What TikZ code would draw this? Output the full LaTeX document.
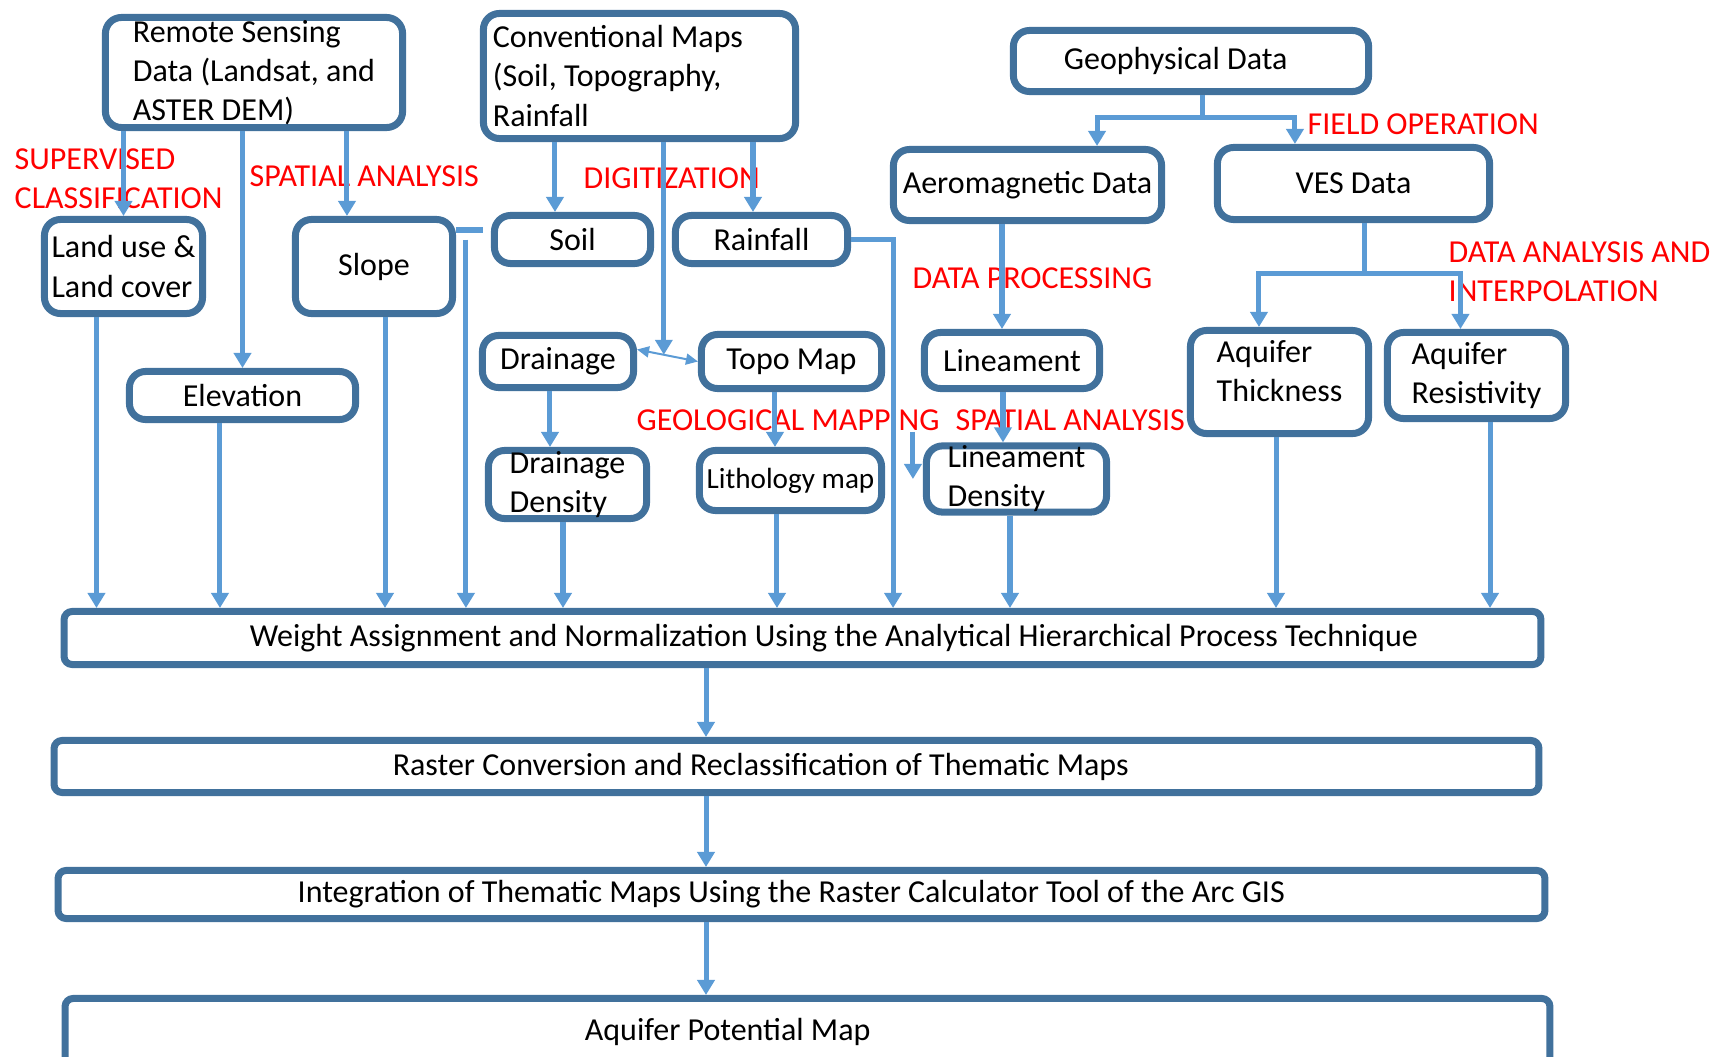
\documentclass[tikz,border=0pt]{standalone}
\usepackage{fontspec}
\setmainfont{Carlito}
\usepackage{tikz}
\usetikzlibrary{arrows.meta}
\usetikzlibrary{calc}
\definecolor{boxblue}{RGB}{65,113,156}
\definecolor{linkblue}{RGB}{91,155,213}
\tikzset{basic/.style={draw=boxblue,line width=0.07cm,fill=white,inner sep=0pt,
                       align=left,font=\fontsize{9.1}{11.1}\selectfont}}
\tikzset{box/.style={basic,rounded corners=0.16cm}}
\tikzset{wide/.style={basic,rounded corners=0.08cm,minimum width=14.84cm}}
\def\px{0.01cm}

\begin{document}
\begin{tikzpicture}[x=\px,y=-\px]
    \tikzstyle{arr}=[draw=linkblue,line width=0.05cm,-{Triangle[width=0.17cm,length=0.15cm]}]
    \tikzstyle{link}=[draw=linkblue,line width=0.05cm]
    \tikzstyle{twoway}=[draw=linkblue,line width=0.02cm,
        {Triangle[width=0.11cm,length=0.12cm]}-{Triangle[width=0.11cm,length=0.12cm]}]
    \tikzstyle{annot}=[text=red,anchor=west,inner sep=0pt,align=left,
        font=\fontsize{9.1}{11.1}\selectfont]
    \useasboundingbox (0,0) rectangle (1735,1057);

    % Draw the source data boxes
    \node[box,minimum width=2.97cm,minimum height=1.10cm] (rs) at (254,72.5)
        {Remote Sensing\\Data (Landsat, and\\ASTER DEM)};
    \node[box,minimum width=3.12cm,minimum height=1.25cm,text width=2.93cm,align=flush left] (cm) at (639.5,76)
        {Conventional Maps\\(Soil, Topography,\\Rainfall};
    \node[box,minimum width=3.55cm,minimum height=0.61cm,text width=2.54cm,align=flush left] (geo) at (1191,61)
        {Geophysical Data};

    % Draw the thematic layer boxes
    \foreach \name/\x/\y/\w/\h/\txt in {aero/1027.5/185/2.68/0.71/Aeromagnetic Data,
                                       ves/1353.5/183.5/2.72/0.72/VES Data,
                                       slope/374/266.5/1.57/0.94/Slope,
                                       soil/572.5/239.5/1.56/0.48/Soil,
                                       rain/761.5/239.5/1.72/0.48/Rainfall,
                                       elev/242.5/395.5/2.26/0.48/Elevation,
                                       drain/558/361.5/1.51/0.52/Drainage,
                                       topo/791.5/361.5/1.80/0.54/Topo Map,
                                       lin/1012/360.5/1.75/0.56/Lineament}
        \node[box,minimum width=\w cm,minimum height=\h cm] (\name) at (\x,\y) {\txt};
    \node[box,minimum width=1.82cm,minimum height=0.60cm,font=\fontsize{8.3}{10}\selectfont] (lith) at (790.5,480.5)
        {Lithology map};
    \node[box,minimum width=1.58cm,minimum height=0.94cm] (lu) at (123.5,266.5)
        {Land use \&\\Land cover};
    \node[box,minimum width=1.78cm,minimum height=1.03cm,text depth=0.22cm] (aqt) at (1279.5,382)
        {Aquifer\\Thickness};
    \node[box,minimum width=1.78cm,minimum height=0.86cm] (aqr) at (1476.5,375.5)
        {Aquifer\\Resistivity};
    \node[box,minimum width=1.58cm,minimum height=0.68cm] (dd) at (567.5,484.5)
        {Drainage\\Density};
    \node[box,minimum width=1.80cm,minimum height=0.65cm] (ld) at (1016.5,479)
        {Lineament\\Density};

    % Draw the processing chain
    \node[wide,minimum width=14.76cm,minimum height=0.53cm,text width=12.3cm,align=flush right] (wa) at (802.5,638)
        {Weight Assignment and Normalization Using the Analytical Hierarchical Process Technique};
    \node[wide,minimum height=0.52cm,text width=8.07cm,align=flush left] (rc) at (796.5,766.5)
        {Raster Conversion and Reclassification of Thematic Maps};
    \node[wide,minimum width=14.86cm,minimum height=0.48cm,text width=10.07cm,align=flush left] (ig) at (801.5,894.5)
        {Integration of Thematic Maps Using the Raster Calculator Tool of the Arc GIS};
    \node[wide,minimum height=0.67cm,text width=4.45cm,align=flush left] (apm) at (807.5,1032)
        {Aquifer Potential Map};

    % Annotate the operations
    \node[annot] (l-sc) at (14,179) {SUPERVISED\\CLASSIFICATION};
    \node[annot] (l-sa) at (249,176) {SPATIAL ANALYSIS};
    \node[annot] (l-dg) at (583,178.5) {DIGITIZATION};
    \node[annot] (l-fo) at (1307,124) {FIELD OPERATION};
    \node[annot] (l-dp) at (912,278) {DATA PROCESSING};
    \node[annot] (l-da) at (1448,271.5) {DATA ANALYSIS AND\\INTERPOLATION};
    \node[annot] (l-gm) at (636,420) {GEOLOGICAL MAPPING};
    \node[annot] (l-sb) at (955,420) {SPATIAL ANALYSIS};

    % Remote sensing data to its layers
    \draw[arr] (rs.south -| lu.north) -- (lu.north);
    \draw[arr] (rs.south -| elev.north) -- (elev.north);
    \draw[arr] ([xshift=-2.7mm]slope.north |- rs.south) -- ([xshift=-2.7mm]slope.north);

    % Conventional maps to their layers
    \draw[arr] ([xshift=-1.75mm]soil.north |- cm.south) -- ([xshift=-1.75mm]soil.north);
    \draw[arr] ([xshift=-0.85mm]rain.north |- cm.south) -- ([xshift=-0.85mm]rain.north);
    \coordinate (dtmid) at ($([yshift=1.2mm]drain.east)!0.44!(topo.west)$);
    \draw[twoway] ([yshift=1.2mm]drain.east) -- (topo.west);
    \draw[arr] (cm.south -| dtmid) -- (dtmid);
    \draw[link] ([shift={(-0.8mm,0.95mm)}]soil.west) -- ([yshift=0.95mm]soil.west -| slope.east);
    \draw[arr] ([xshift=-2.5mm]soil.west) -- ([xshift=-2.5mm]soil.west |- wa.north);
    \draw[arr] (rain.east) -- ([xshift=4.2mm]rain.east) -- ([xshift=4.2mm]rain.east |- wa.north);
    \draw[arr] ([xshift=-0.8mm]drain.south) -- ([xshift=-0.8mm]drain.south |- dd.north);
    \draw[arr] ([xshift=-1.65mm]topo.south) -- ([xshift=-1.65mm]topo.south |- lith.north);

    % Geophysical data to its layers
    \coordinate (gj) at ([xshift=1.1mm,yshift=-2.2mm]geo.south);
    \draw[link] ([xshift=1.1mm]geo.south) -- (gj);
    \draw[arr] (gj) -| ([xshift=6.95mm]aero.north);
    \draw[arr] (gj) -| ([xshift=-5.85mm]ves.north);
    \draw[arr] ([xshift=-1mm]lin.north |- aero.south) -- ([xshift=-1mm]lin.north);
    \draw[arr] ([xshift=-0.9mm]lin.south) -- ([xshift=-0.9mm]lin.south |- ld.north);
    \draw[arr] ([shift={(-1mm,4.7mm)}]ld.west) -- ([xshift=-1mm]ld.west);
    \coordinate (vj) at ([xshift=1.05mm,yshift=-5mm]ves.south);
    \draw[link] ([xshift=1.05mm]ves.south) -- (vj);
    \draw[arr] (vj) -| ([xshift=-2.05mm]aqt.north);
    \draw[arr] (vj) -| ([xshift=-1.6mm]aqr.north);

    % Connect every layer with the weighting box
    \foreach \name/\dx in {lu/-2.7,elev/-2.25,slope/1.1,dd/-0.45,lith/-1.35,ld/-0.65,aqt/-0.35,aqr/1.35}
        \draw[arr] ([xshift=\dx mm]\name.south) -- ([xshift=\dx mm]\name.south |- wa.north);

    % Connect the processing chain
    \coordinate (spine) at (706,0);
    \foreach \source/\dest in {wa/rc,rc/ig,ig/apm}
        \draw[arr] (\source.south -| spine) -- (\dest.north -| spine);
\end{tikzpicture}
\end{document}
